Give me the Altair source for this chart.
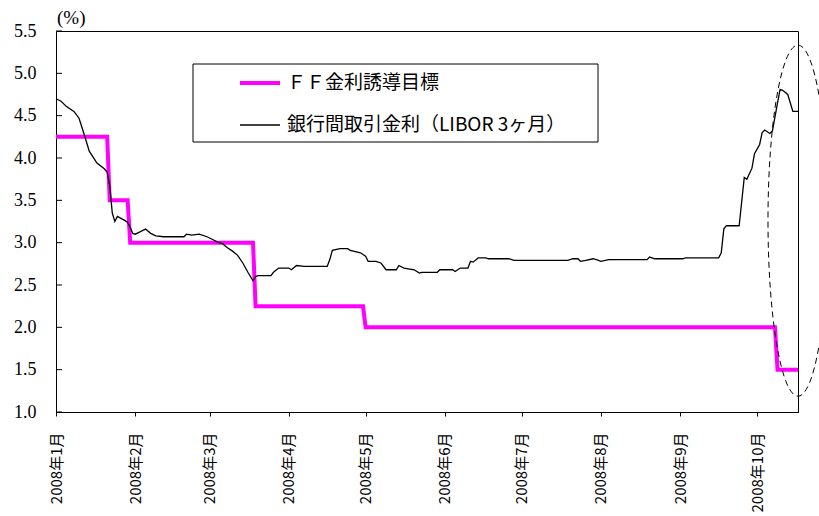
import altair as alt
import pandas as pd

# Fed funds target rate (step changes, one point each side of every cut)
ff_dates = ["2008-01-01", "2008-01-21", "2008-01-22", "2008-01-29", "2008-01-30",
            "2008-03-18", "2008-03-19", "2008-04-30", "2008-05-01", "2008-10-08",
            "2008-10-09", "2008-10-17"]
ff_values = [4.25, 4.25, 3.5, 3.5, 3.0, 3.0, 2.25, 2.25, 2.0, 2.0, 1.5, 1.5]

# 3-month USD LIBOR
libor_dates = [
    "2008-01-01", "2008-01-03", "2008-01-05", "2008-01-08", "2008-01-10", "2008-01-12",
    "2008-01-14", "2008-01-17", "2008-01-20", "2008-01-21", "2008-01-22", "2008-01-23",
    "2008-01-24", "2008-01-25", "2008-01-28", "2008-01-29", "2008-01-30", "2008-01-31",
    "2008-02-01", "2008-02-03", "2008-02-05", "2008-02-07", "2008-02-09", "2008-02-12",
    "2008-02-20", "2008-02-21", "2008-02-23", "2008-02-26", "2008-02-29", "2008-03-02",
    "2008-03-04", "2008-03-06", "2008-03-08", "2008-03-10", "2008-03-12", "2008-03-14",
    "2008-03-16", "2008-03-18", "2008-03-19", "2008-03-20", "2008-03-25", "2008-03-26",
    "2008-03-28", "2008-04-01", "2008-04-02", "2008-04-04", "2008-04-07", "2008-04-16",
    "2008-04-17", "2008-04-18", "2008-04-21", "2008-04-24", "2008-04-25", "2008-04-29",
    "2008-05-01", "2008-05-02", "2008-05-05", "2008-05-07", "2008-05-09", "2008-05-13",
    "2008-05-14", "2008-05-16", "2008-05-20", "2008-05-22", "2008-05-23", "2008-05-29",
    "2008-05-30", "2008-06-04", "2008-06-05", "2008-06-07", "2008-06-10", "2008-06-11",
    "2008-06-12", "2008-06-14", "2008-06-17", "2008-06-18", "2008-06-26", "2008-06-28",
    "2008-07-19", "2008-07-21", "2008-07-23", "2008-07-24", "2008-07-26", "2008-07-29",
    "2008-07-31", "2008-08-01", "2008-08-04", "2008-08-19", "2008-08-20", "2008-08-22",
    "2008-09-02", "2008-09-03", "2008-09-16", "2008-09-17", "2008-09-18", "2008-09-19",
    "2008-09-24", "2008-09-26", "2008-09-27", "2008-09-29", "2008-09-30", "2008-10-02",
    "2008-10-03", "2008-10-04", "2008-10-06", "2008-10-07", "2008-10-09", "2008-10-10",
    "2008-10-11", "2008-10-13", "2008-10-14", "2008-10-15", "2008-10-17",
]
libor_values = [
    4.70, 4.67, 4.61, 4.55, 4.47, 4.28,
    4.08, 3.94, 3.87, 3.83, 3.67, 3.35,
    3.25, 3.31, 3.26, 3.24, 3.18, 3.11,
    3.10, 3.13, 3.16, 3.11, 3.08, 3.07,
    3.07, 3.10, 3.09, 3.10, 3.07, 3.04,
    3.01, 2.99, 2.94, 2.90, 2.85, 2.76,
    2.65, 2.55, 2.60, 2.61, 2.61, 2.65,
    2.70, 2.70, 2.68, 2.73, 2.72, 2.72,
    2.80, 2.91, 2.93, 2.93, 2.91, 2.88,
    2.84, 2.78, 2.78, 2.76, 2.68, 2.68,
    2.73, 2.70, 2.68, 2.64, 2.65, 2.65,
    2.68, 2.68, 2.66, 2.70, 2.70, 2.78,
    2.77, 2.82, 2.82, 2.81, 2.81, 2.79,
    2.79, 2.81, 2.81, 2.78, 2.79, 2.81,
    2.79, 2.78, 2.80, 2.80, 2.83, 2.81,
    2.81, 2.82, 2.82, 2.88, 3.16, 3.20,
    3.20, 3.77, 3.75, 3.88, 4.05, 4.16,
    4.30, 4.33, 4.29, 4.32, 4.65, 4.81,
    4.80, 4.75, 4.65, 4.55, 4.55,
]

series_names = ["ＦＦ金利誘導目標", "銀行間取引金利（LIBOR 3ヶ月）"]
series_colors = ["#FF00FF", "#000000"]
series_widths = [4, 1.3]

y_ticks = [1.0, 1.5, 2.0, 2.5, 3.0, 3.5, 4.0, 4.5, 5.0, 5.5]

# dashed ellipse highlighting the October spike
focus_date = ["2008-10-17"]
focus_value = [3.26]

ff_df = pd.DataFrame({"date": ff_dates, "value": ff_values})
libor_df = pd.DataFrame({"date": libor_dates, "value": libor_values})
focus_df = pd.DataFrame({"date": focus_date, "value": focus_value})
tick_df = pd.DataFrame({"value": y_ticks})
one = pd.DataFrame({"k": [0]})

W, H = 742, 381
CJK = "Noto Sans CJK JP"
SERIF = "Liberation Serif, Times New Roman, DejaVu Serif, serif"

x_axis = alt.Axis(
    title=None,
    tickCount=alt.TimeIntervalStep(interval="month", step=1),
    labelExpr="utcFormat(datum.value, '%Y') + '年' + (utcmonth(datum.value) + 1) + '月'",
    labelAngle=270,
    labelAlign="right",
    labelBaseline="middle",
    labelFont=CJK,
    labelFontSize=15,
    labelColor="#000000",
    labelPadding=16,
    tickSize=4,
    tickColor="#000000",
    domainColor="#000000",
    grid=False,
    labelOverlap=False,
)
y_axis = alt.Axis(
    title=None,
    values=y_ticks,
    format=".1f",
    labelFont=SERIF,
    labelFontSize=18,
    labelColor="#000000",
    labelPadding=20,
    ticks=False,
    tickSize=0,
    domainColor="#000000",
    grid=False,
)
x_scale = alt.Scale(
    type="utc",
    domain=[alt.DateTime(year=2008, month=1, date=1, utc=True),
            alt.DateTime(year=2008, month=10, date=17, utc=True)],
    nice=False,
)
y_scale = alt.Scale(domain=[1.0, 5.5], nice=False, zero=False)


def xy():
    return dict(
        x=alt.X("date:T", scale=x_scale, axis=x_axis),
        y=alt.Y("value:Q", scale=y_scale, axis=y_axis),
    )


ff_line = alt.Chart(ff_df).mark_line(
    color=series_colors[0], strokeWidth=series_widths[0], strokeJoin="miter"
).encode(**xy())

libor_line = alt.Chart(libor_df).mark_line(
    color=series_colors[1], strokeWidth=series_widths[1]
).encode(**xy())

# inward-facing y ticks
y_tick_marks = alt.Chart(tick_df).mark_rule(color="#000000", strokeWidth=1).encode(
    y=alt.Y("value:Q", scale=y_scale, axis=y_axis), x=alt.value(0), x2=alt.value(6)
)

ellipse_path = ("M0,-1 C0.0944,-1 0.171,-0.5523 0.171,0 "
                "C0.171,0.5523 0.0944,1 0,1 "
                "C-0.0944,1 -0.171,0.5523 -0.171,0 "
                "C-0.171,-0.5523 -0.0944,-1 0,-1 Z")
focus = alt.Chart(focus_df).mark_point(
    shape=ellipse_path, size=351 * 351, filled=False, stroke="#000000",
    strokeWidth=1, strokeDash=[6, 4], opacity=1,
).encode(**xy())

unit_label = alt.Chart(one).mark_text(
    text="(%)", font=SERIF, fontSize=19, align="left", baseline="bottom", color="#000000"
).encode(x=alt.value(1), y=alt.value(-3))

# legend box with line samples
legend_box = alt.Chart(one).mark_rect(
    fill="white", stroke="#000000", strokeWidth=1
).encode(x=alt.value(137), x2=alt.value(542), y=alt.value(33), y2=alt.value(111))

legend_layers = [legend_box]
for i, (name, col, sw) in enumerate(zip(series_names, series_colors, series_widths)):
    yy = 52 + 42 * i
    legend_layers.append(
        alt.Chart(one).mark_rule(color=col, strokeWidth=sw).encode(
            x=alt.value(184), x2=alt.value(224), y=alt.value(yy)
        )
    )
    legend_layers.append(
        alt.Chart(one).mark_text(
            text=name, font=CJK, fontSize=19, align="left", baseline="middle", color="#000000"
        ).encode(x=alt.value(231), y=alt.value(yy))
    )

chart = alt.layer(
    ff_line, libor_line, y_tick_marks, focus, unit_label, *legend_layers
).properties(
    width=W, height=H,
    autosize=alt.AutoSizeParams(type="none"),
    padding={"left": 56, "top": 31, "right": 21, "bottom": 104},
    background="white",
).configure_view(stroke="#000000", strokeWidth=1)

chart.save("out.html", embed_options={"renderer": "svg", "actions": False})
